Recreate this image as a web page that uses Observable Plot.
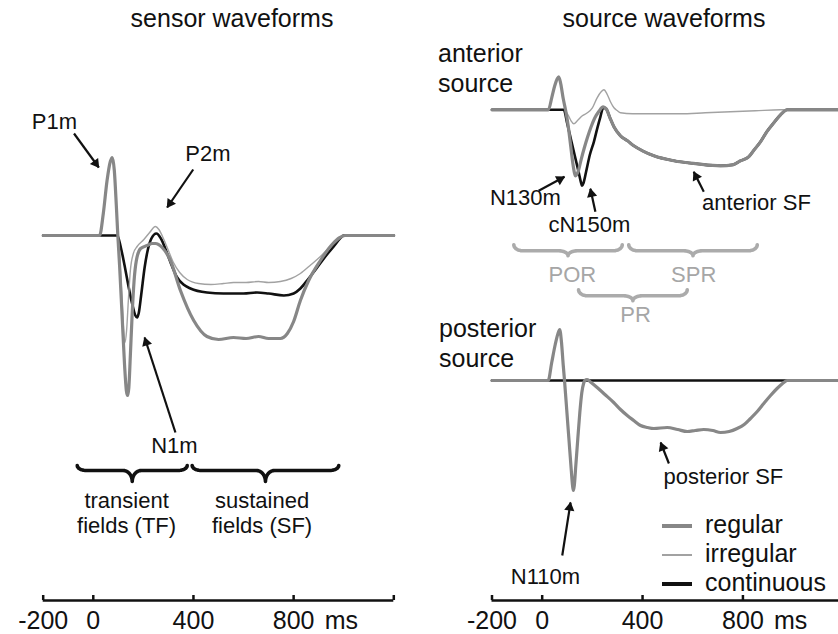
<!DOCTYPE html>
<html><head><meta charset="utf-8">
<script src="https://cdn.jsdelivr.net/npm/d3@7"></script>
<script src="https://cdn.jsdelivr.net/npm/@observablehq/plot@0.6"></script>
<style>
body{margin:0;background:#fff;}
#fig{position:relative;width:838px;height:634px;overflow:hidden;background:#fff;font-family:"Liberation Sans",Arial,Helvetica,sans-serif;color:#111;}
#fig svg{position:absolute;}
.lbl{position:absolute;white-space:pre;font-size:25px;line-height:30px;}
</style></head><body><div id="fig"></div>
<script>
// ---------- data (time in ms, amplitude in arbitrary units, positive = up) ----------
const timeDomain = [-200, 1200];
const axisTicks = [-200, 0, 400, 800, 1200];
const axisLabels = [-200, 0, 400, 800];
const axisUnit = "ms";
const conditions = ["regular", "irregular", "continuous"];

const sensorRegular = [[-200,0],[25,0],[40,22],[55,55],[68,74],[76,78],[84,65],[92,30],[98,0],[105,-30],[115,-80],[125,-130],[132,-155],[137,-160],[142,-152],[148,-120],[155,-80],[163,-45],[172,-25],[189,-13],[215,-10],[235,-8],[248,-8],[275,-12],[308,-25],[348,-55],[401,-85],[454,-101],[500,-104],[560,-102],[610,-103],[660,-101],[700,-103],[747,-103],[775,-98],[800,-86],[827,-65],[860,-45],[907,-25],[950,-10],[985,-2],[1005,0],[1200,0]];
const sensorIrregular = [[-200,0],[25,0],[40,22],[55,55],[68,74],[76,78],[84,65],[92,30],[98,0],[105,-20],[115,-65],[122,-98],[127,-107],[133,-95],[140,-65],[148,-35],[160,-18],[175,-11],[202,-4],[225,3],[248,9],[262,6],[280,-3],[300,-15],[320,-27],[345,-37],[375,-44],[420,-48],[470,-49],[520,-48],[560,-47],[610,-47],[660,-46],[700,-47],[747,-46],[790,-43],[827,-38],[870,-29],[907,-21],[950,-10],[990,-1],[1005,0],[1200,0]];
const sensorContinuous = [[-200,0],[96,0],[110,-12],[125,-30],[140,-50],[155,-68],[168,-80],[175,-82],[182,-77],[192,-58],[205,-32],[218,-14],[232,-3],[252,2],[270,-3],[295,-18],[315,-31],[335,-42],[360,-49],[388,-53],[454,-57],[520,-58],[600,-58],[654,-57],[700,-58],[761,-60],[800,-58],[827,-53],[860,-43],[894,-32],[930,-20],[960,-11],[985,-3],[1000,0],[1200,0]];

const anteriorRegular = [[-200,0],[25,0],[38,12],[50,24],[60,31],[66,33],[74,26],[84,11],[93,0],[103,-15],[113,-35],[123,-55],[133,-66],[143,-62],[155,-50],[168,-38],[180,-28],[195,-17],[210,-8],[225,-2],[243,3],[255,1],[270,-8],[286,-17],[312,-26],[340,-31],[365,-36],[400,-41],[445,-46],[525,-51],[617,-54],[711,-56],[760,-55],[790,-51],[823,-47],[845,-40],[870,-32],[895,-22],[923,-13],[950,-5],[976,0],[1200,0]];
const anteriorIrregular = [[-200,0],[25,0],[38,12],[50,24],[60,31],[66,33],[74,26],[84,11],[93,0],[105,-6],[115,-11],[126,-14],[140,-11],[160,-6],[180,-3],[200,2],[219,12],[235,18],[246,20],[258,16],[272,8],[286,2],[300,-1],[312,-3],[360,-4],[450,-4],[550,-4],[650,-3],[750,-2],[850,-1],[950,0],[1200,0]];
const anteriorContinuous = [[-200,0],[86,0],[100,-14],[115,-30],[130,-46],[145,-62],[154,-72],[159,-76],[165,-73],[175,-62],[190,-45],[206,-32],[220,-18],[232,-7],[243,2],[255,1],[270,-8],[286,-17],[312,-26],[340,-31],[365,-36],[400,-41],[445,-46],[525,-51],[617,-54],[711,-56],[760,-55],[790,-51],[823,-47],[845,-40],[870,-32],[895,-22],[923,-13],[950,-5],[976,0],[1200,0]];

const posteriorRegular = [[-200,0],[24,0],[38,18],[52,36],[63,47],[70,51],[77,38],[84,15],[89,0],[98,-30],[107,-60],[116,-90],[121,-105],[124,-110],[128,-105],[134,-85],[142,-58],[150,-32],[158,-12],[165,-3],[170,0],[179,1],[195,-2],[219,-7],[250,-14],[285,-22],[312,-29],[339,-35],[365,-40],[392,-45],[420,-47],[445,-48],[498,-47],[540,-49],[578,-51],[610,-50],[644,-49],[680,-50],[711,-52],[745,-51],[777,-48],[805,-44],[830,-38],[857,-31],[883,-23],[910,-15],[936,-8],[958,-3],[977,0],[1200,0]];
const posteriorIrregular = [[-200,0],[24,0],[38,18],[52,36],[63,47],[70,51],[77,38],[84,15],[89,0],[98,-30],[107,-60],[116,-90],[121,-105],[124,-110],[128,-105],[134,-85],[142,-58],[150,-32],[158,-12],[165,-3],[170,0],[179,1],[195,-2],[219,-7],[250,-14],[285,-22],[312,-29],[339,-35],[365,-40],[392,-45],[420,-47],[445,-48],[498,-47],[540,-49],[578,-51],[610,-50],[644,-49],[680,-50],[711,-52],[745,-51],[777,-48],[805,-44],[830,-38],[857,-31],[883,-23],[910,-15],[936,-8],[958,-3],[977,0],[1200,0]];
const posteriorContinuous = [[-200,0],[1200,0]];

// annotations (time, amplitude)
const sensorNotes = [
  {label:"P1m", t:-155, a:114}, {label:"P2m", t:458, a:82}, {label:"N1m", t:324, a:-210},
  {label:"transient\nfields (TF)", t:133, a:-277}, {label:"sustained\nfields (SF)", t:674, a:-277}
];
const sensorArrows = [
  {t1:-77, a1:102, t2:22, a2:68}, {t1:399, a1:66, t2:295, a2:28}, {t1:328, a1:-197, t2:205, a2:-102}
];
const sensorBraces = [
  {id:"TF", t1:-64, t2:375, top:-230, mid:-235, cusp:-246},
  {id:"SF", t1:395, t2:980, top:-230, mid:-235, cusp:-246}
];
const anteriorNotes = [
  {label:"N130m", t:-67, a:-87}, {label:"cN150m", t:188, a:-114}, {label:"anterior SF", t:854, a:-92}
];
const anteriorArrows = [
  {t1:-14, a1:-81, t2:89, a2:-67}, {t1:212, a1:-102, t2:192, a2:-79}, {t1:644, a1:-82, t2:604, a2:-62}
];
const periodBraces = [
  {id:"POR", t1:-113, t2:319, top:-135, mid:-141, cusp:-146},
  {id:"SPR", t1:345, t2:857, top:-135, mid:-141, cusp:-146},
  {id:"PR", t1:145, t2:578, top:-180, mid:-186, cusp:-191}
];
const periodNotes = [
  {label:"POR", t:120, a:-164}, {label:"SPR", t:604, a:-164}, {label:"PR", t:372, a:-204}
];
const posteriorNotes = [
  {label:"posterior SF", t:722, a:-96}, {label:"N110m", t:13, a:-196}
];
const posteriorArrows = [
  {t1:505, a1:-83, t2:472, a2:-62}, {t1:80, a1:-175, t2:113, a2:-122}
];

// ---------- styles ----------
const FONT = '"Liberation Sans", Arial, Helvetica, sans-serif';
const condStyle = {
  continuous: {stroke:"#111", strokeWidth:2.6},
  irregular: {stroke:"#a2a2a2", strokeWidth:1.4},
  regular: {stroke:"#878787", strokeWidth:3.2}
};
const legendWidth = {regular:4, irregular:1.5, continuous:3.6};

// ---------- helpers ----------
const rows = pairs => pairs.map(([t, a]) => ({t, a}));
function waveMarks(series) {
  return ["continuous", "irregular", "regular"].map(c =>
    Plot.line(rows(series[c]), {x:"t", y:"a", curve:"monotone-x", strokeLinejoin:"round", ...condStyle[c]}));
}
function braceRows(braces) {
  const out = [], N = 12;
  for (const b of braces) {
    const tm = (b.t1 + b.t2) / 2, q = 36;
    for (let i = 0; i <= N; i++) { const f = i / N * Math.PI / 2; out.push({id:b.id, t:b.t1 + q * (1 - Math.cos(f)), a:b.top - (b.top - b.mid) * Math.sin(f)}); }
    for (let i = 0; i <= N; i++) { const f = i / N * Math.PI / 2; out.push({id:b.id, t:tm - q + q * Math.sin(f), a:b.mid - (b.mid - b.cusp) * (1 - Math.cos(f))}); }
    for (let i = N; i >= 0; i--) { const f = i / N * Math.PI / 2; out.push({id:b.id, t:tm + q - q * Math.sin(f), a:b.mid - (b.mid - b.cusp) * (1 - Math.cos(f))}); }
    for (let i = N; i >= 0; i--) { const f = i / N * Math.PI / 2; out.push({id:b.id, t:b.t2 - q * (1 - Math.cos(f)), a:b.top - (b.top - b.mid) * Math.sin(f)}); }
  }
  return out;
}
function axisMarks(yMin) {
  return [
    Plot.ruleY([yMin], {x1:timeDomain[0], x2:timeDomain[1], stroke:"#111", strokeWidth:2.5}),
    Plot.ruleX(axisTicks, {x:d => d, y1:yMin, y2:yMin + 5, stroke:"#111", strokeWidth:2.5}),
    Plot.text(axisLabels, {x:d => d, y:yMin, dy:20, text:d => String(d), fontSize:25}),
    Plot.text([axisUnit], {x:axisLabels[axisLabels.length - 1], y:yMin, dy:20, dx:31, textAnchor:"start", fontSize:25})
  ];
}
// arrows: a shaft (link) plus a filled triangular head rotated along the shaft
function arrowMarks(data, kx) {
  const heads = data.map(d => {
    const dx = (d.t2 - d.t1) * kx, dy = -(d.a2 - d.a1);   // screen direction
    const len = Math.hypot(dx, dy), ux = dx / len, uy = dy / len, back = 5.2;
    return {t:d.t2 - ux * back / kx, a:d.a2 + uy * back, angle:Math.atan2(dx, -dy) * 180 / Math.PI};
  });
  return [
    Plot.link(data, {x1:"t1", y1:"a1", x2:"t2", y2:"a2", stroke:"#111", strokeWidth:2.2}),
    Plot.dot(heads, {x:"t", y:"a", symbol:"triangle", r:3.8, fill:"#111", stroke:"none", rotate:"angle"})
  ];
}
const noteMarks = (data, fill = "#111") => Plot.text(data, {x:"t", y:"a", text:"label", fontSize:22, lineHeight:1.12, fill});
const baseStyle = {background:"transparent", fontFamily:FONT, overflow:"visible"};

const fig = document.getElementById("fig");
function place(svg, left, top) { svg.style.left = left + "px"; svg.style.top = top + "px"; fig.appendChild(svg); }

// ---------- left: sensor waveforms ----------
const L = {width:420, ml:42.7, mr:26.7};
const kxL = (L.width - L.ml - L.mr) / (timeDomain[1] - timeDomain[0]);
const left = Plot.plot({
  width:L.width, height:634, marginLeft:L.ml, marginRight:L.mr, marginTop:0, marginBottom:34,
  x:{domain:timeDomain, axis:null}, y:{domain:[-365, 235], axis:null}, style:baseStyle,
  marks:[
    ...waveMarks({regular:sensorRegular, irregular:sensorIrregular, continuous:sensorContinuous}),
    Plot.line(braceRows(sensorBraces), {x:"t", y:"a", z:"id", stroke:"#111", strokeWidth:3.6, strokeLinecap:"round", strokeLinejoin:"round"}),
    ...arrowMarks(sensorArrows, kxL),
    noteMarks(sensorNotes),
    ...axisMarks(-365)
  ]
});
place(left, 0, 0);

// ---------- right top: anterior source ----------
const R = {width:430, ml:71.5, mr:7.2};
const kxR = (R.width - R.ml - R.mr) / (timeDomain[1] - timeDomain[0]);
const anterior = Plot.plot({
  width:R.width, height:340, marginLeft:R.ml, marginRight:R.mr, marginTop:0, marginBottom:0,
  x:{domain:timeDomain, axis:null}, y:{domain:[-230.7, 109.3], axis:null}, style:baseStyle,
  marks:[
    ...waveMarks({regular:anteriorRegular, irregular:anteriorIrregular, continuous:anteriorContinuous}),
    Plot.line(braceRows(periodBraces), {x:"t", y:"a", z:"id", stroke:"#ababab", strokeWidth:3.6, strokeLinecap:"round", strokeLinejoin:"round"}),
    ...arrowMarks(anteriorArrows, kxR),
    noteMarks(anteriorNotes),
    noteMarks(periodNotes, "#a6a6a6")
  ]
});
place(anterior, 420, 0);

// ---------- right bottom: posterior source ----------
const posterior = Plot.plot({
  width:R.width, height:314, marginLeft:R.ml, marginRight:R.mr, marginTop:0, marginBottom:34,
  x:{domain:timeDomain, axis:null}, y:{domain:[-220, 60], axis:null}, style:baseStyle,
  marks:[
    ...waveMarks({regular:posteriorRegular, irregular:posteriorIrregular, continuous:posteriorContinuous}),
    ...arrowMarks(posteriorArrows, kxR),
    noteMarks(posteriorNotes),
    ...axisMarks(-220)
  ]
});
place(posterior, 420, 320);

// ---------- titles, panel labels, legend ----------
function label(text, left, top, extra = "") {
  const d = document.createElement("div");
  d.className = "lbl"; d.textContent = text;
  d.style.cssText += `left:${left}px;top:${top}px;${extra}`;
  fig.appendChild(d); return d;
}
label("sensor waveforms", 232, 3, "transform:translateX(-50%);");
label("source waveforms", 664, 3, "transform:translateX(-50%);");
label("anterior\nsource", 438, 38);
label("posterior\nsource", 439, 313);
conditions.forEach((c, i) => {
  const y = 526 + i * 29;
  const ln = document.createElement("div");
  ln.style.cssText = `position:absolute;left:662px;width:30px;top:${y - legendWidth[c] / 2}px;height:${legendWidth[c]}px;background:${condStyle[c].stroke};`;
  fig.appendChild(ln);
  label(c, 705, y - 17);
});
</script></body></html>
